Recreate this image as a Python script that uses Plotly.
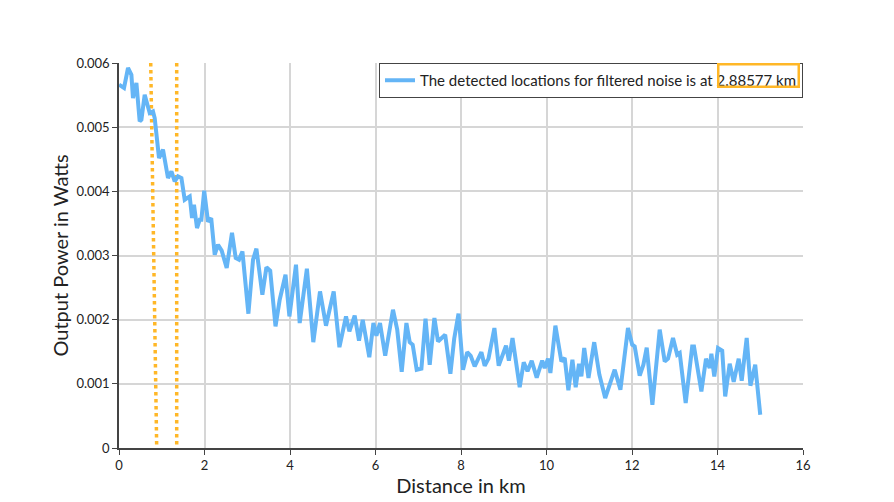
import plotly.graph_objects as go

distance_km = [0.0, 0.117, 0.211, 0.290, 0.327, 0.407, 0.484, 0.524, 0.601, 0.678,
               0.718, 0.795, 0.835, 0.936, 1.029, 1.146, 1.226, 1.303, 1.380, 1.460,
               1.537, 1.654, 1.708, 1.754, 1.825, 1.888, 1.927, 1.993, 2.082, 2.157,
               2.239, 2.316, 2.402, 2.519, 2.643, 2.730, 2.807, 2.887, 3.027, 3.135,
               3.214, 3.354, 3.448, 3.537, 3.661, 3.759, 3.895, 3.986, 4.140, 4.227,
               4.395, 4.545, 4.702, 4.842, 5.022, 5.156, 5.310, 5.389, 5.513, 5.614,
               5.701, 5.855, 5.951, 6.021, 6.105, 6.227, 6.409, 6.508, 6.613, 6.723,
               6.800, 6.870, 6.964, 7.074, 7.170, 7.268, 7.378, 7.462, 7.541, 7.630,
               7.752, 7.841, 7.942, 8.047, 8.145, 8.227, 8.320, 8.477, 8.554, 8.643,
               8.781, 8.882, 9.053, 9.120, 9.205, 9.373, 9.467, 9.556, 9.654, 9.771,
               9.899, 9.958, 10.035, 10.091, 10.208, 10.348, 10.426, 10.512, 10.606, 10.683,
               10.760, 10.816, 10.882, 10.982, 11.116, 11.237, 11.373, 11.471, 11.595, 11.729,
               11.906, 12.005, 12.063, 12.180, 12.267, 12.344, 12.477, 12.648, 12.765, 12.842,
               12.959, 13.057, 13.116, 13.256, 13.408, 13.450, 13.623, 13.731, 13.817, 13.857,
               13.925, 14.012, 14.110, 14.180, 14.285, 14.379, 14.496, 14.566, 14.620, 14.683,
               14.770, 14.882, 15.0]

power_mw = [5.662, 5.610, 5.922, 5.817, 5.454, 5.688, 5.090, 5.116, 5.506, 5.323,
            5.221, 5.245, 5.143, 4.519, 4.649, 4.208, 4.310, 4.155, 4.233, 4.208,
            3.869, 3.921, 3.584, 3.792, 3.428, 3.558, 3.558, 4.010, 3.527, 3.581,
            3.012, 3.168, 3.075, 2.805, 3.355, 2.961, 2.934, 3.064, 2.093, 2.934,
            3.106, 2.389, 2.818, 2.763, 1.895, 2.311, 2.701, 2.051, 2.856, 1.948,
            2.794, 1.649, 2.440, 1.906, 2.440, 1.571, 2.051, 1.817, 2.062, 1.672,
            1.999, 1.415, 1.948, 1.750, 1.948, 1.438, 2.155, 1.844, 1.189, 1.948,
            1.649, 1.610, 1.220, 1.236, 2.015, 1.298, 2.026, 1.661, 1.714, 1.766,
            1.158, 1.703, 2.093, 1.220, 1.493, 1.438, 1.272, 1.493, 1.283, 1.392,
            1.870, 1.283, 1.594, 1.360, 1.714, 0.947, 1.337, 1.197, 1.360, 1.096,
            1.360, 1.247, 1.392, 1.169, 1.906, 1.350, 1.403, 0.901, 1.376, 0.947,
            1.314, 1.116, 1.558, 1.091, 1.649, 1.142, 0.779, 0.986, 1.220, 0.909,
            1.870, 1.610, 1.583, 1.127, 1.298, 1.563, 0.675, 1.844, 1.350, 1.392,
            1.714, 1.454, 1.480, 0.701, 1.583, 1.583, 0.882, 1.392, 1.247, 1.470,
            1.116, 1.558, 1.516, 0.804, 1.314, 1.033, 1.392, 1.049, 1.427, 1.714,
            0.971, 1.298, 0.519]

power_w = [v / 1000.0 for v in power_mw]

marker1_x = [0.742, 0.882]
marker1_y = [0.006, 0.0]
marker2_x = [1.350, 1.350]
marker2_y = [0.006, 0.0]

x_ticks = [0, 2, 4, 6, 8, 10, 12, 14, 16]
y_ticks = [0, 0.001, 0.002, 0.003, 0.004, 0.005, 0.006]
y_tick_text = ["0", "0.001", "0.002", "0.003", "0.004", "0.005", "0.006"]

legend_label = "The detected locations for filtered noise is at 2.88577 km"

FONT = "Lato"
BLUE = "#64B5F6"
ORANGE = "#FFB727"

fig = go.Figure()
fig.add_trace(go.Scatter(x=marker1_x, y=marker1_y, mode="lines", showlegend=False,
                         line=dict(color=ORANGE, width=3.5, dash="dot"), hoverinfo="skip"))
fig.add_trace(go.Scatter(x=marker2_x, y=marker2_y, mode="lines", showlegend=False,
                         line=dict(color=ORANGE, width=3.5, dash="dot"), hoverinfo="skip"))
fig.add_trace(go.Scatter(x=distance_km, y=power_w, mode="lines", name=legend_label,
                         line=dict(color=BLUE, width=4)))

fig.update_layout(
    width=894, height=502,
    margin=dict(l=119, r=91, t=63, b=54),
    paper_bgcolor="white", plot_bgcolor="white",
    font=dict(family=FONT, size=13, color="#222"),
    showlegend=True,
    legend=dict(x=1.0, y=1.0, xanchor="right", yanchor="top",
                bgcolor="white", bordercolor="#444", borderwidth=1,
                font=dict(family=FONT, size=15, color="#222"),
                itemwidth=30, tracegroupgap=0),
    xaxis=dict(range=[0, 16], tickvals=x_ticks, showgrid=True, gridcolor="#d6d6d6",
               gridwidth=1.5, showline=True, linecolor="#444", linewidth=1.5,
               ticks="outside", ticklen=5, tickcolor="#444", zeroline=False,
               title=dict(text="Distance in km", font=dict(size=20), standoff=0),
               tickfont=dict(size=13)),
    yaxis=dict(range=[0, 0.006], tickvals=y_ticks, ticktext=y_tick_text, showgrid=True,
               gridcolor="#d6d6d6", gridwidth=1.5, showline=True, linecolor="#444",
               linewidth=1.5, ticks="outside", ticklen=5, tickcolor="#444", zeroline=False,
               title=dict(text="Output Power in Watts", font=dict(size=20), standoff=2),
               tickfont=dict(size=13)),
    annotations=[dict(xref="paper", yref="paper",
                      x=(758.5 - 119) / 684, y=(448 - 75) / 385,
                      xanchor="center", yanchor="middle",
                      text=" ", showarrow=False, width=76, height=18,
                      bordercolor=ORANGE, borderwidth=2.5, borderpad=1,
                      bgcolor="rgba(0,0,0,0)")],
)

fig.write_html("out.html")
